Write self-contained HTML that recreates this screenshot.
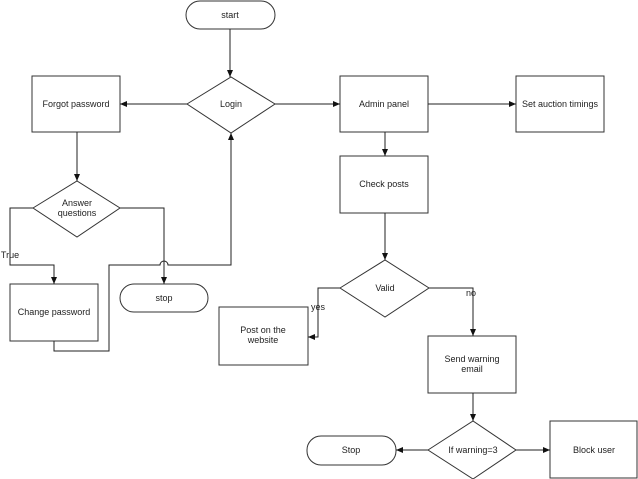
<!DOCTYPE html>
<html><head><style>body{margin:0;background:#fff}svg{display:block}text{font-family:"Liberation Sans",sans-serif;font-size:9px;fill:#222;text-anchor:middle}</style></head><body>
<svg width="638" height="479" viewBox="0 0 638 479">
<defs><marker id="a" markerWidth="8" markerHeight="8" refX="7" refY="4" orient="auto" markerUnits="userSpaceOnUse"><path d="M0,1 L7,4 L0,7 z" fill="#111"/></marker></defs>
<g fill="none" stroke="#333" stroke-width="1">
<rect x="186" y="1" width="89" height="28" rx="14"/>
<polygon points="187,104 231,77 275,104 231,133" fill="#fff"/>
<rect x="32" y="76" width="88" height="56"/>
<polygon points="33,208 77,181 120,208 77,237"/>
<rect x="10" y="284" width="88" height="57"/>
<rect x="120" y="284" width="88" height="28" rx="14"/>
<rect x="340" y="76" width="88" height="56"/>
<rect x="516" y="76" width="88" height="56"/>
<rect x="340" y="156" width="88" height="57"/>
<polygon points="340,288 385,260 429,288 385,317"/>
<rect x="219" y="307" width="89" height="58"/>
<rect x="428" y="336" width="88" height="57"/>
<polygon points="428,450 473,421 516,450 473,479"/>
<rect x="307" y="436" width="89" height="29" rx="14"/>
<rect x="550" y="421" width="87" height="57"/>
<g stroke="#222" marker-end="url(#a)">
<path d="M230,29 V77"/>
<path d="M187,104 H120"/>
<path d="M77,132 V181"/>
<path d="M33,208 H10 V265 H54 V284"/>
<path d="M120,208 H164 V284"/>
<path d="M54,341 V351 H109 V265 H160 A4,4 0 0 1 168,265 H231 V133"/>
<path d="M275,104 H340"/>
<path d="M428,104 H516"/>
<path d="M385,132 V156"/>
<path d="M385,213 V260"/>
<path d="M340,288 H318 V337 H308"/>
<path d="M429,288 H473 V336"/>
<path d="M473,393 V421"/>
<path d="M428,450 H396"/>
<path d="M516,450 H550"/>
</g></g>
<text x="230" y="18">start</text>
<text x="231" y="107">Login</text>
<text x="76" y="107">Forgot password</text>
<text x="77" y="206">Answer</text><text x="77" y="216">questions</text>
<text x="10" y="258">True</text>
<text x="54" y="315">Change password</text>
<text x="164" y="301">stop</text>
<text x="384" y="107">Admin panel</text>
<text x="560" y="107">Set auction timings</text>
<text x="384" y="187">Check posts</text>
<text x="385" y="291">Valid</text>
<text x="318" y="310">yes</text>
<text x="471" y="296">no</text>
<text x="263" y="333">Post on the</text><text x="263" y="343">website</text>
<text x="472" y="362">Send warning</text><text x="472" y="372">email</text>
<text x="473" y="453">If warning=3</text>
<text x="351" y="453">Stop</text>
<text x="594" y="453">Block user</text>
</svg></body></html>
